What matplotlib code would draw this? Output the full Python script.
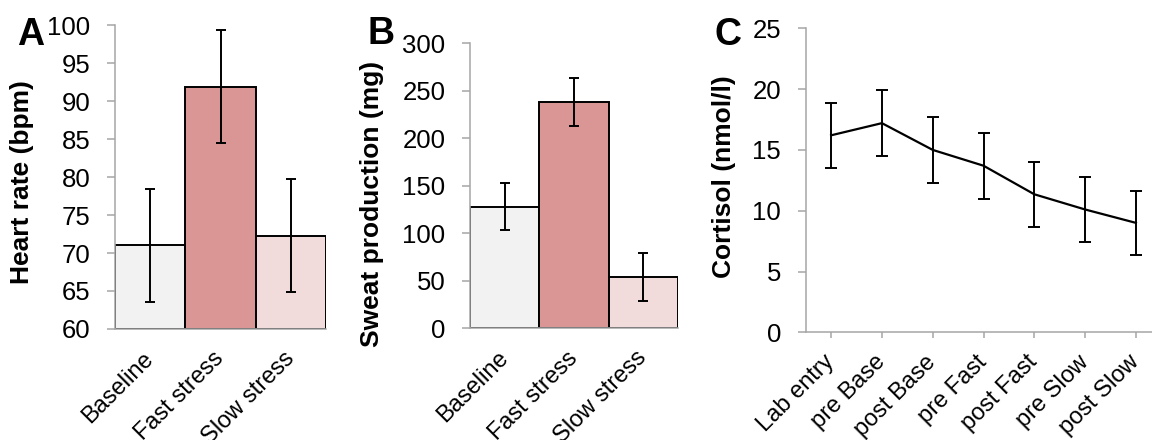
import matplotlib
matplotlib.use("Agg")
import matplotlib.pyplot as plt

plt.rcParams['font.family'] = ['Liberation Sans', 'DejaVu Sans']

# Data
conditions = ['Baseline', 'Fast stress', 'Slow stress']
bar_colors = ['#f2f2f2', '#d99694', '#f2dcdb']

heart_rate = [71.0, 91.9, 72.3]
heart_rate_err = [7.4, 7.4, 7.4]

sweat = [128, 238, 54]
sweat_err = [25, 25, 25]

timepoints = ['Lab entry', 'pre Base', 'post Base', 'pre Fast', 'post Fast', 'pre Slow', 'post Slow']
cortisol = [16.2, 17.2, 15.0, 13.7, 11.35, 10.1, 9.0]
cortisol_err = [2.65, 2.7, 2.7, 2.7, 2.65, 2.7, 2.65]

W, H = 1152, 440
fig = plt.figure(figsize=(W / 100, H / 100), dpi=100)

spine_col = '#a6a6a6'
tick_fs = 18.5
xtick_fs = 17
label_fs = 19


def px_axes(left, top, right, bottom):
    return fig.add_axes([left / W, 1 - bottom / H, (right - left) / W, (bottom - top) / H])


def style(ax):
    for s in ['top', 'right']:
        ax.spines[s].set_visible(False)
    for s in ['left', 'bottom']:
        ax.spines[s].set_color(spine_col)
        ax.spines[s].set_linewidth(1.1)
    ax.tick_params(axis='y', direction='out', length=5.8, width=1.1, color=spine_col,
                   labelsize=tick_fs, pad=12)


def bar_panel(ax, values, errs, ylim, step):
    x = range(len(values))
    ax.bar(x, [v - ylim[0] for v in values], bottom=ylim[0], width=1.0,
           color=bar_colors, edgecolor='black', linewidth=1.4)
    ax.errorbar(x, values, yerr=errs, fmt='none', ecolor='black',
                elinewidth=1.4, capsize=3.8, capthick=1.4)
    ax.set_xlim(-0.5, len(values) - 0.5)
    ax.set_ylim(*ylim)
    ax.set_yticks(range(ylim[0], ylim[1] + 1, step))
    style(ax)
    ax.set_xticks(list(x))
    ax.set_xticklabels(conditions, rotation=45, ha='right', va='center',
                       rotation_mode='anchor', fontsize=xtick_fs)
    ax.tick_params(axis='x', length=0, pad=19)


# Panel A
axA = px_axes(115, 25, 326, 329)
bar_panel(axA, heart_rate, heart_rate_err, (60, 100), 5)

# Panel B
axB = px_axes(470, 43.3, 678, 328.3)
bar_panel(axB, sweat, sweat_err, (0, 300), 50)

# Panel C
axC = px_axes(805.7, 28.3, 1161.3, 332.3)
xc = list(range(len(timepoints)))
axC.errorbar(xc, cortisol, yerr=cortisol_err, color='black', linewidth=1.6,
             elinewidth=1.4, capsize=4.6, capthick=1.4)
axC.set_xlim(-0.5, len(timepoints) - 0.5)
axC.set_ylim(0, 25)
axC.set_yticks(range(0, 26, 5))
style(axC)
axC.set_xticks(xc)
axC.set_xticklabels(timepoints, rotation=45, ha='right', va='center',
                    rotation_mode='anchor', fontsize=xtick_fs)
axC.tick_params(axis='x', direction='out', length=4, width=1.1, color=spine_col, pad=15)

# Y labels
fig.text(22 / W, 1 - 182 / H, 'Heart rate (bpm)', rotation=90, ha='center', va='center',
         fontsize=label_fs, fontweight='bold')
fig.text(372 / W, 1 - 204 / H, 'Sweat production (mg)', rotation=90, ha='center', va='center',
         fontsize=label_fs, fontweight='bold')
fig.text(724 / W, 1 - 177 / H, 'Cortisol (nmol/l)', rotation=90, ha='center', va='center',
         fontsize=label_fs, fontweight='bold')

# Panel letters
for letter, xl, yb in [('A', 17, 45), ('B', 367, 44), ('C', 714, 45)]:
    fig.text(xl / W, 1 - yb / H, letter, ha='left', va='baseline',
             fontsize=27, fontweight='bold')

fig.savefig('out.png', dpi=100)
